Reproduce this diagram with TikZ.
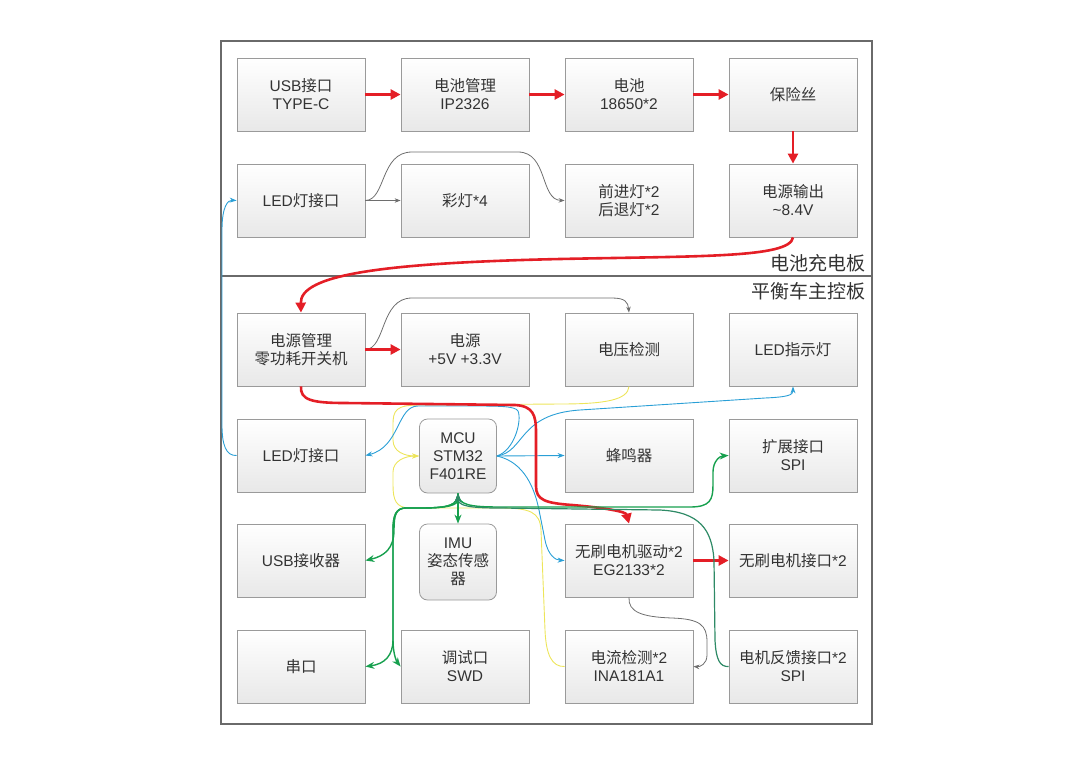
\documentclass[tikz,border=0pt]{standalone}
\usepackage{fontspec}
\setmainfont{Liberation Sans}
\newfontfamily\cjk{Noto Sans CJK SC}
\usetikzlibrary{arrows.meta}
\definecolor{tred}{HTML}{E41E26}
\definecolor{tgrey}{HTML}{6E6E6E}
\definecolor{tblue}{HTML}{2A9FD6}
\definecolor{tyel}{HTML}{EDE55A}
\definecolor{tgreen}{HTML}{17A04E}
\definecolor{tdgreen}{HTML}{2E8A66}
\definecolor{tframe}{HTML}{6A6A6A}
\definecolor{tbord}{HTML}{9A9A9A}
\definecolor{tfill}{HTML}{E8E8E8}
\definecolor{ttext}{HTML}{333333}
\tikzset{
  blk/.style={draw=tbord, line width=0.8pt, top color=white, bottom color=tfill,
    minimum width=128pt, minimum height=73pt, align=center, text=ttext,
    font=\fontsize{15.5}{18}\selectfont, inner sep=0pt},
  rblk/.style={blk, rounded corners=8pt, minimum width=77pt},
  redc/.style={draw=tred, line width=2.6pt, -{Triangle[length=10pt,width=10pt]}},
  greyc/.style={draw=tgrey, line width=0.8pt, -{Stealth[length=6pt,width=4.5pt]}},
  bluec/.style={draw=tblue, line width=0.9pt, -{Stealth[length=7pt,width=5pt]}},
  yelc/.style={draw=tyel, line width=0.9pt, -{Stealth[length=7pt,width=5pt]}},
  grnc/.style={draw=tgreen, line width=1.4pt, -{Stealth[length=9pt,width=7pt]}},
  lbl/.style={text=ttext, font=\cjk\fontsize{19}{22}\selectfont, inner sep=0pt}
}
\begin{document}
\begin{tikzpicture}[x=1pt,y=-1pt]
\useasboundingbox (0,0) rectangle (1080,764);
% frame
\draw[tframe, line width=2pt] (221,41) rectangle (872,724);
\draw[tframe, line width=2.5pt] (221,276) -- (872,276);
\node[lbl, anchor=south east] (lab1) at (866,272) {电池充电板};
\node[lbl, anchor=north east] (lab2) at (866,282) {平衡车主控板};
% row 1
\node[blk] (usb) at (301,94.5) {USB{\cjk 接口}\\TYPE-C};
\node[blk] (bm) at (465,94.5) {{\cjk 电池管理}\\IP2326};
\node[blk] (bat) at (629,94.5) {{\cjk 电池}\\18650*2};
\node[blk] (fuse) at (793,94.5) {\cjk 保险丝};
% row 2
\node[blk] (led1) at (301,200.5) {LED{\cjk 灯接口}};
\node[blk] (lamp) at (465,200.5) {{\cjk 彩灯}*4};
\node[blk] (fwd) at (629,200.5) {{\cjk 前进灯}*2\\{\cjk 后退灯}*2};
\node[blk] (out) at (793,200.5) {{\cjk 电源输出}\\\textasciitilde8.4V};
% row 3
\node[blk] (pm) at (301,349.5) {{\cjk 电源管理}\\{\cjk 零功耗开关机}};
\node[blk] (pwr) at (465,349.5) {{\cjk 电源}\\+5V +3.3V};
\node[blk] (volt) at (629,349.5) {\cjk 电压检测};
\node[blk] (ledind) at (793,349.5) {LED{\cjk 指示灯}};
% row 4
\node[blk] (led2) at (301,455.5) {LED{\cjk 灯接口}};
\node[rblk, minimum height=74pt] (mcu) at (458,456) {MCU\\STM32\\F401RE};
\node[blk] (buzz) at (629,455.5) {\cjk 蜂鸣器};
\node[blk] (ext) at (793,455.5) {{\cjk 扩展接口}\\SPI};
% row 5
\node[blk] (usbr) at (301,560.5) {USB{\cjk 接收器}};
\node[rblk, minimum height=76pt] (imu) at (458,562) {IMU\\{\cjk 姿态传感}\\{\cjk 器}};
\node[blk] (drv) at (629,560.5) {{\cjk 无刷电机驱动}*2\\EG2133*2};
\node[blk] (motif) at (793,560.5) {{\cjk 无刷电机接口}*2};
% row 6
\node[blk] (uart) at (301,666.5) {\cjk 串口};
\node[blk] (swd) at (465,666.5) {{\cjk 调试口}\\SWD};
\node[blk] (cur) at (629,666.5) {{\cjk 电流检测}*2\\INA181A1};
\node[blk] (fb) at (793,666.5) {{\cjk 电机反馈接口}*2\\SPI};

% yellow
\draw[yelc] (volt.south) .. controls (628,400) and (605,404) .. (560,404) -- (420,405)
  .. controls (396,405) and (393,410) .. (393,425) -- (393,440)
  .. controls (393,452) and (405,456) .. (mcu.west);
\draw[yelc] (cur.west) .. controls (552,667) and (546,655) .. (545,630) -- (541,530)
  .. controls (540,512) and (530,508) .. (500,508) -- (410,508)
  .. controls (396,508) and (393,500) .. (393,485) -- (393,472)
  .. controls (393,461) and (405,456) .. (mcu.west);
% blue
\draw[bluec] (mcu.east) -- (buzz.west);
\draw[bluec] (mcu.east) .. controls (525,452) and (518,414) .. (580,410) -- (765,398)
  .. controls (788,397) and (793,395) .. (ledind.south);
\draw[bluec] (mcu.east) .. controls (515,450) and (522,420) .. (518,411)
  .. controls (515,406) and (500,406) .. (470,406) -- (418,406)
  .. controls (397,406) and (400,447) .. (led2.east);
\draw[bluec] (mcu.east) .. controls (525,462) and (535,490) .. (539,510) -- (545,540)
  .. controls (548,555) and (555,560) .. (drv.west);
\draw[bluec] (led2.west) .. controls (226,456) and (222,445) .. (222,425) -- (222,230)
  .. controls (222,206) and (228,200) .. (led1.west);
% grey
\draw[greyc] (led1.east) -- (lamp.west);
\draw[greyc] (led1.east) .. controls (386,200) and (380,152) .. (412,152) -- (518,152)
  .. controls (548,152) and (540,200) .. (fwd.west);
\draw[greyc] (pm.east) .. controls (386,349) and (380,298) .. (412,298) -- (612,298)
  .. controls (625,298) and (628,302) .. (volt.north);
\draw[greyc] (drv.south) .. controls (628,612) and (642,617) .. (672,618)
  .. controls (700,619) and (707,625) .. (707,642) -- (707,655)
  .. controls (707,664) and (700,667) .. (cur.east);
% red
\draw[redc] (usb.east) -- (bm.west);
\draw[redc] (bm.east) -- (bat.west);
\draw[redc] (bat.east) -- (fuse.west);
\draw[redc] (fuse.south) -- (out.north);
\draw[redc] (out.south) .. controls (790,258) and (700,256) .. (560,259)
  .. controls (380,263) and (300,275) .. (pm.north);
\draw[redc] (pm.east) -- (pwr.west);
\draw[redc] (pm.south) .. controls (300,400) and (312,403) .. (345,403) -- (515,405)
  .. controls (533,406) and (536,415) .. (536,432) -- (536,486)
  .. controls (536,500) and (545,503) .. (572,505)
  .. controls (608,508) and (626,512) .. (drv.north);
\draw[redc] (drv.east) -- (motif.west);
% green
\draw[grnc, {Stealth[length=9pt,width=7pt]}-{Stealth[length=9pt,width=7pt]}] (mcu.south) -- (imu.north);
\draw[grnc, {Stealth[length=9pt,width=7pt]}-{Stealth[length=9pt,width=7pt]}] (mcu.south)
  .. controls (458,505) and (450,508) .. (420,508) -- (406,508)
  .. controls (396,508) and (394,515) .. (394,530)
  .. controls (394,548) and (385,556) .. (usbr.east);
\draw[grnc] (mcu.south) .. controls (458,505) and (450,508) .. (420,508) -- (406,508)
  .. controls (396,508) and (393,515) .. (393,530) -- (393,640)
  .. controls (393,655) and (385,664) .. (uart.east);
\draw[grnc] (mcu.south) .. controls (458,505) and (450,508) .. (420,508) -- (406,508)
  .. controls (396,508) and (393,515) .. (393,530) -- (393,640)
  .. controls (393,655) and (397,662) .. (swd.west);
\draw[grnc] (mcu.south) .. controls (458,505) and (470,507) .. (500,507) -- (690,507)
  .. controls (710,507) and (713,500) .. (713,485) -- (713,472)
  .. controls (713,461) and (720,456) .. (ext.west);
\draw[draw=tdgreen, line width=1.2pt, {Stealth[length=9pt,width=7pt]}-] (mcu.south)
  .. controls (458,506) and (470,508) .. (500,508) -- (660,510)
  .. controls (700,512) and (712,530) .. (714,560) -- (715,640)
  .. controls (716,660) and (720,667) .. (fb.west);
\end{tikzpicture}
\end{document}
